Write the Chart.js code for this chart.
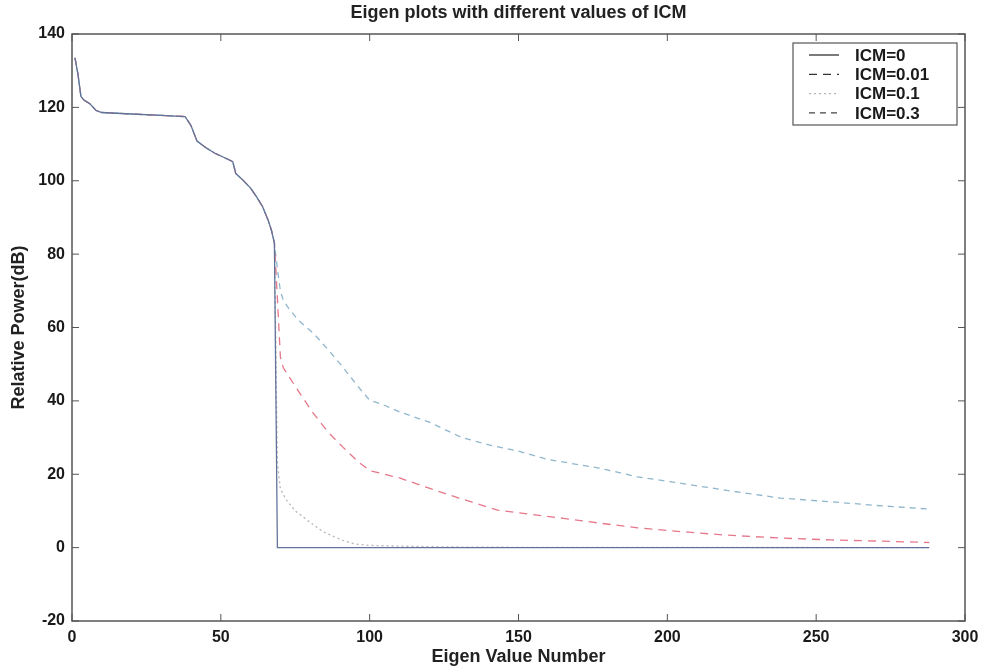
<!DOCTYPE html>
<html>
<head>
<meta charset="utf-8">
<title>Eigen plots with different values of ICM</title>
<script src="https://cdn.jsdelivr.net/npm/chart.js@4.4.1/dist/chart.umd.min.js"></script>
<style>
  html, body { margin: 0; padding: 0; background: #fff; }
  #wrap { width: 986px; height: 669px; }
</style>
</head>
<body>
<div id="wrap"><canvas id="mycanvas"></canvas></div>
<script>
// values: [eigen value number, relative power dB]
var seriesLabels = ['ICM=0', 'ICM=0.01', 'ICM=0.1', 'ICM=0.3'];

// part shared by all four curves (eigen values 1..68)
var headPts = [
  [1, 133.5], [2, 129], [3, 123], [4, 122], [6, 121], [8, 119.2], [10, 118.6],
  [20, 118.2], [30, 117.8], [38, 117.5], [40, 115], [42, 110.8], [45, 109],
  [48, 107.5], [52, 106], [54, 105.2], [55, 102], [57, 100.5], [60, 98],
  [62, 95.6], [64, 93], [66, 89], [67, 86.5], [68, 83]
];

var icm0Tail = [[69, 0], [288, 0]];

var icm001Tail = [
  [69, 68], [70, 52], [71, 49], [73, 46.5], [77, 41.5], [81, 36.7], [86, 31.5],
  [91, 27.4], [96, 23.5], [100, 21], [105, 20], [110, 19], [120, 16.2],
  [130, 13.5], [143, 10.2], [155, 9], [165, 8], [177, 6.7], [190, 5.4],
  [207, 4.2], [220, 3.4], [238, 2.6], [255, 2.1], [270, 1.8], [288, 1.4]
];

var icm01Tail = [
  [69, 23], [70, 16], [72, 13], [75, 10], [79, 7.5], [84, 4.5], [88, 3],
  [91, 2], [95, 1], [100, 0.6], [110, 0.4], [125, 0.2], [140, 0.1], [288, 0]
];

var icm03Tail = [
  [69, 76], [70, 70], [71, 67.4], [73, 65], [76, 62], [81, 58.5], [86, 54],
  [91, 49.2], [96, 44], [100, 40.2], [105, 38.8], [110, 37], [120, 34.2],
  [131, 30], [140, 28], [150, 26.3], [160, 24], [177, 21.7], [190, 19.3],
  [204, 17.6], [220, 15.6], [238, 13.5], [255, 12.5], [270, 11.5], [288, 10.5]
];

var xTicks = [0, 50, 100, 150, 200, 250, 300];
var yTicks = [-20, 0, 20, 40, 60, 80, 100, 120, 140];

var lineColors = ['#60749a', '#e6778a', '#b5b5b5', '#8fb6cc'];
var legendColors = ['#222', '#333', '#b5b5b5', '#444'];
var dashes = [[], [8, 6], [2, 3], [6, 5]];

function toXY(pts) {
  return pts.map(function (p) { return { x: p[0], y: p[1] }; });
}

var tails = [icm0Tail, icm001Tail, icm01Tail, icm03Tail];
var datasets = [];
for (var i in seriesLabels) {
  datasets.push({
    label: seriesLabels[i],
    data: toXY(headPts.concat(tails[i])),
    borderColor: lineColors[i],
    borderDash: dashes[i],
    borderWidth: 1.3,
    pointRadius: 0,
    tension: 0,
    fill: false
  });
}

var FONT = "'Liberation Sans', Arial, sans-serif";

// MATLAB style box, inward ticks and legend box inside the axes
var matlabFrame = {
  id: 'matlabFrame',
  afterDraw: function (chart) {
    var ctx = chart.ctx, a = chart.chartArea;
    var xs = chart.scales.x, ys = chart.scales.y;
    var tl = 7;
    ctx.save();
    ctx.strokeStyle = '#555';
    ctx.lineWidth = 1.5;
    ctx.strokeRect(a.left, a.top, a.right - a.left, a.bottom - a.top);
    ctx.lineWidth = 1;
    ctx.beginPath();
    xTicks.forEach(function (v) {
      var px = xs.getPixelForValue(v);
      ctx.moveTo(px, a.bottom); ctx.lineTo(px, a.bottom - tl);
      ctx.moveTo(px, a.top); ctx.lineTo(px, a.top + tl);
    });
    yTicks.forEach(function (v) {
      var py = ys.getPixelForValue(v);
      ctx.moveTo(a.left, py); ctx.lineTo(a.left + tl, py);
      ctx.moveTo(a.right, py); ctx.lineTo(a.right - tl, py);
    });
    ctx.stroke();

    // legend
    var bw = 164, bh = 82;
    var bx = a.right - 172, by = a.top + 9;
    ctx.fillStyle = '#fff';
    ctx.fillRect(bx, by, bw, bh);
    ctx.strokeStyle = '#555';
    ctx.lineWidth = 1.2;
    ctx.strokeRect(bx, by, bw, bh);
    ctx.font = 'bold 17px ' + FONT;
    ctx.textBaseline = 'middle';
    ctx.textAlign = 'left';
    chart.data.datasets.forEach(function (ds, k) {
      var ry = by + 12 + k * 19.3;
      ctx.strokeStyle = legendColors[k];
      ctx.lineWidth = 1.2;
      ctx.setLineDash(ds.borderDash);
      ctx.beginPath();
      ctx.moveTo(bx + 16, ry); ctx.lineTo(bx + 46, ry);
      ctx.stroke();
      ctx.setLineDash([]);
      ctx.fillStyle = '#1a1a1a';
      ctx.fillText(ds.label, bx + 62, ry + 1);
    });
    ctx.restore();
  }
};

var ctx = document.getElementById('mycanvas');
var chart = new Chart(ctx, {
  type: 'line',
  data: { datasets: datasets },
  options: {
    responsive: true,
    maintainAspectRatio: false,
    animation: false,
    layout: { padding: { top: 0, right: 21, bottom: 0, left: 0 } },
    plugins: {
      legend: { display: false },
      tooltip: { enabled: false },
      title: {
        display: true,
        fullSize: false,
        text: 'Eigen plots with different values of ICM',
        color: '#222',
        font: { family: FONT, size: 18, weight: 'bold' },
        padding: { top: 2, bottom: 10.4 }
      }
    },
    scales: {
      x: {
        type: 'linear',
        min: 0, max: 300,
        afterBuildTicks: function (s) { s.ticks = xTicks.map(function (v) { return { value: v }; }); },
        afterFit: function (s) { s.height = 48; },
        grid: { display: false, drawTicks: false },
        border: { display: false },
        ticks: { color: '#1a1a1a', padding: 7, font: { family: FONT, size: 16, weight: 'bold' }, maxRotation: 0 },
        title: {
          display: true,
          text: 'Eigen Value Number',
          color: '#222',
          font: { family: FONT, size: 18, weight: 'bold' },
          padding: { top: 0, bottom: 1 }
        }
      },
      y: {
        type: 'linear',
        min: -20, max: 140,
        afterBuildTicks: function (s) { s.ticks = yTicks.map(function (v) { return { value: v }; }); },
        afterFit: function (s) { s.width = 72; },
        grid: { display: false, drawTicks: false },
        border: { display: false },
        ticks: { color: '#1a1a1a', padding: 7, font: { family: FONT, size: 16, weight: 'bold' } },
        title: {
          display: true,
          text: 'Relative Power(dB)',
          color: '#222',
          font: { family: FONT, size: 18, weight: 'bold' },
          padding: { top: 8, bottom: 0 }
        }
      }
    }
  },
  plugins: [matlabFrame]
});
</script>
</body>
</html>
